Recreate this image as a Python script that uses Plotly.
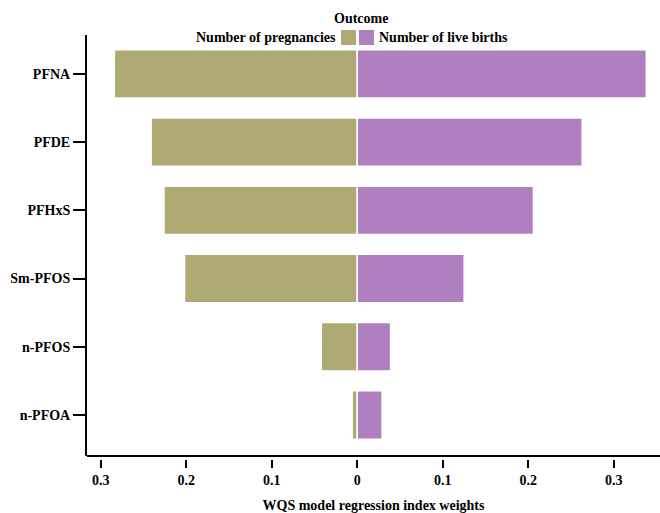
import plotly.graph_objects as go

# Chemicals, listed bottom to top on the y axis
chemicals = ["n-PFOA", "n-PFOS", "Sm-PFOS", "PFHxS", "PFDE", "PFNA"]
# WQS index weights per outcome
w_pregnancies = [0.006, 0.042, 0.202, 0.226, 0.241, 0.284]
w_live_births = [0.029, 0.039, 0.125, 0.206, 0.263, 0.338]

tick_vals = [-0.3, -0.2, -0.1, 0, 0.1, 0.2, 0.3]
tick_text = ["0.3", "0.2", "0.1", "0", "0.1", "0.2", "0.3"]

OLIVE = "#AFA974"
PURPLE = "#AF7FC0"
FONT = "Liberation Serif"
FS = 14

fig = go.Figure()
fig.add_trace(go.Bar(
    y=chemicals, x=[-v for v in w_pregnancies], orientation="h",
    name="Number of pregnancies", marker=dict(color=OLIVE, line=dict(color="white", width=1.5)),
    showlegend=False,
))
fig.add_trace(go.Bar(
    y=chemicals, x=w_live_births, orientation="h",
    name="Number of live births", marker=dict(color=PURPLE, line=dict(color="white", width=1.5)),
    showlegend=False,
))

W, H = 660, 513
ml, mr, mt, mb = 87, 0, 35, 54
plot_h = H - mt - mb
y_bottom = 3 / plot_h

fig.update_layout(
    width=W, height=H,
    margin=dict(l=ml, r=mr, t=mt, b=mb, autoexpand=False),
    paper_bgcolor="white", plot_bgcolor="white",
    barmode="relative", bargap=0.29,
    font=dict(family=FONT, size=FS, color="black"),
    xaxis=dict(
        range=[-0.316, 0.354], tickvals=tick_vals, ticktext=tick_text,
        showgrid=False, zeroline=False, showline=False, automargin=False,
        ticks="outside", ticklen=8, tickwidth=2, tickcolor="black",
        tickfont=dict(family=FONT, size=FS, weight="bold"), ticklabelstandoff=0,
        anchor="free", position=0,
        title=dict(text="WQS model regression index weights",
                   font=dict(family=FONT, size=FS, weight="bold"), standoff=25),
    ),
    yaxis=dict(
        domain=[y_bottom, 1], range=[-0.6, 5.57], automargin=False,
        type="category", categoryorder="array", categoryarray=chemicals,
        showgrid=False, zeroline=False, showline=True, linewidth=2, linecolor="black",
        ticks="outside", ticklen=12, tickwidth=2, tickcolor="black",
        tickfont=dict(family=FONT, size=FS, weight="bold"), ticklabelstandoff=0,
    ),
)

# horizontal axis line at the bottom of the bar panel
fig.add_shape(type="line", xref="paper", yref="y domain", x0=0, x1=1, y0=0, y1=0,
              line=dict(color="black", width=2))

# legend drawn as text and swatches above the bars
def px_x(p):
    return (p - ml) / (W - ml - mr)

def px_y(p):
    return (H - mb - p) / plot_h

fig.add_annotation(text="<b>Outcome</b>", xref="paper", yref="paper",
                   x=px_x(361), y=px_y(18), showarrow=False, xanchor="center", yanchor="middle",
                   font=dict(family=FONT, size=FS))
fig.add_annotation(text="<b>Number of pregnancies</b>", xref="paper", yref="paper",
                   x=px_x(338), y=px_y(37), showarrow=False, xanchor="right", yanchor="middle",
                   font=dict(family=FONT, size=FS))
fig.add_annotation(text="<b>Number of live births</b>", xref="paper", yref="paper",
                   x=px_x(377), y=px_y(37), showarrow=False, xanchor="left", yanchor="middle",
                   font=dict(family=FONT, size=FS))
for x0, col in [(341, OLIVE), (359, PURPLE)]:
    fig.add_shape(type="rect", xref="paper", yref="paper",
                  x0=px_x(x0), x1=px_x(x0 + 15), y0=px_y(45), y1=px_y(30),
                  fillcolor=col, line=dict(width=0))

fig.write_html("out.html")
